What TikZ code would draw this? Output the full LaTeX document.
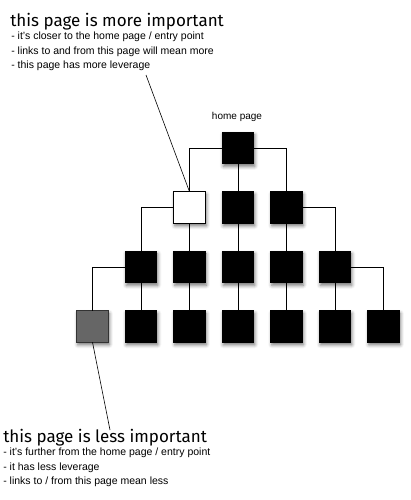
\documentclass[tikz,border=0pt]{standalone}
\usepackage{fontspec}
\setmainfont{Liberation Sans}
\newfontfamily\titlefont{Fira Sans}
\usetikzlibrary{positioning,shadows.blur}

\begin{document}
\begin{tikzpicture}[x=1pt,y=-1pt,
				page/.style={minimum size=31.5pt,inner sep=0pt,outer sep=0pt,draw=black,fill=black,rectangle,
					blur shadow={shadow xshift=1pt,shadow yshift=-2.5pt,shadow blur radius=3.5pt,shadow opacity=55}},
				heading/.style={anchor=north west,inner sep=0pt,font=\titlefont\fontsize{17}{20}\selectfont},
				note/.style={anchor=north west,inner sep=0pt,align=left,font=\fontsize{10.5}{14.5}\selectfont},
				node distance=28pt and 17pt,line width=0.6pt]
				\useasboundingbox (0,0) rectangle (410,500);
				\node (HOME)  [page] at (238,148)         {};
				\node (B2)    [page,below=of HOME]        {};
				\node (A2)    [page,fill=white,left=of B2] {};
				\node (C2)    [page,right=of B2]          {};
				\node (C3)    [page,below=of B2]          {};
				\node (B3)    [page,left=of C3]           {};
				\node (A3)    [page,left=of B3]           {};
				\node (D3)    [page,right=of C3]          {};
				\node (E3)    [page,right=of D3]          {};
				\node (D4)    [page,below=of C3]          {};
				\node (C4)    [page,left=of D4]           {};
				\node (B4)    [page,left=of C4]           {};
				\node (A4)    [page,fill=black!60,draw=black!80,left=of B4] {};
				\node (E4)    [page,right=of D4]          {};
				\node (F4)    [page,right=of E4]          {};
				\node (G4)    [page,right=of F4]          {};
				\node (LABEL) [font=\fontsize{10}{12}\selectfont] at (237,117) {home page};

				\node (MORE)  [heading] at (10,13)  {this page is more important};
				\node (MORENOTE) [note] at (11,32)  {- it's closer to the home page / entry point\\
					- links to and from this page will mean more\\- this page has more leverage};
				\node (LESS)  [heading] at (3,429)  {this page is less important};
				\node (LESSNOTE) [note] at (3,448)  {- it's further from the home page / entry point\\
					- it has less leverage\\- links to / from this page mean less};
				\coordinate (MORETIP) at (146,75);
				\coordinate (LESSTIP) at (110,430);

				\draw (HOME) -| (A2) (HOME) -- (B2) (HOME) -| (C2);
				\draw (A2) -| (A3) (A2) -- (B3) (B2) -- (C3) (C2) -- (D3) (C2) -| (E3);
				\draw (A3) -| (A4) (A3) -- (B4) (B3) -- (C4) (C3) -- (D4) (D3) -- (E4) (E3) -- (F4) (E3) -| (G4);
				\draw (MORETIP) -- (A2.north);
				\draw (A4.south) -- (LESSTIP);
			\end{tikzpicture}
\end{document}
